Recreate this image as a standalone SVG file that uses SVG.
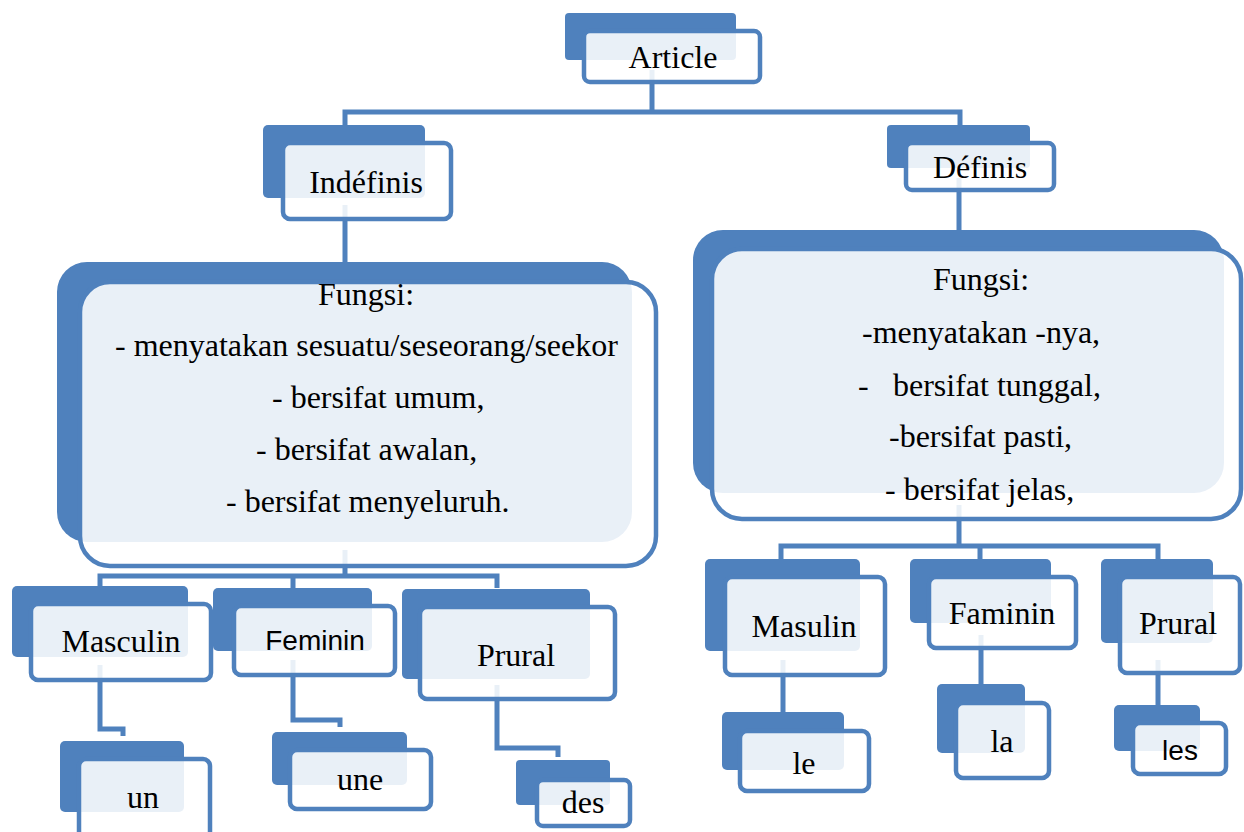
<svg xmlns="http://www.w3.org/2000/svg" width="1244" height="832" viewBox="0 0 1244 832">
<style>
.bk{fill:#4F81BD}
.fr{fill:#fff;fill-opacity:0.88;stroke:#4F81BD;stroke-width:4.5}
.cn{fill:none;stroke:#4F81BD;stroke-width:5}
.t{font-family:"Liberation Serif","Times New Roman",serif;font-size:32px;fill:#000;text-anchor:middle}
.s{font-family:"Liberation Sans",Arial,sans-serif;font-size:28px;fill:#000;text-anchor:middle}
.l{font-family:"Liberation Serif","Times New Roman",serif;font-size:32px;fill:#000}
</style>
<rect width="1244" height="832" fill="#fff"/>
<g id="connectors">
<path class="cn" d="M652 70 V112 M345 125 V112 H960 V125"/>
<path class="cn" d="M345 205 V264"/>
<path class="cn" d="M959 178 V234"/>
<path class="cn" d="M345 550 V576 M100 588 V576 H497 V588 M293 576 V588"/>
<path class="cn" d="M959 505 V546 M781 559 V546 H1158 V559 M980 546 V559"/>
<path class="cn" d="M100 665 V729 H123 V736"/>
<path class="cn" d="M293 660 V720 H340 V727"/>
<path class="cn" d="M497 685 V748 H558 V757"/>
<path class="cn" d="M783 660 V712"/>
<path class="cn" d="M981 635 V684"/>
<path class="cn" d="M1158 660 V705"/>
</g>
<g id="article">
<rect class="bk" x="565" y="13" width="171" height="47" rx="4"/>
<rect class="fr" x="584" y="31" width="176" height="51" rx="6"/>
<text class="t" x="673" y="68">Article</text>
</g>
<g id="indefinis">
<rect class="bk" x="263" y="125" width="162" height="73" rx="5"/>
<rect class="fr" x="283" y="143" width="168" height="76" rx="7"/>
<text class="t" x="366" y="193">Indéfinis</text>
</g>
<g id="definis">
<rect class="bk" x="887" y="125" width="143" height="43" rx="4"/>
<rect class="fr" x="906" y="143" width="148" height="47" rx="6"/>
<text class="t" x="980" y="178">Définis</text>
</g>
<g id="fungsi-indefinis">
<rect class="bk" x="57" y="262" width="575" height="280" rx="30"/>
<rect class="fr" x="80" y="282" width="576" height="284" rx="30"/>
<text class="l" x="318" y="305">Fungsi:</text>
<text class="l" x="115" y="356">- menyatakan sesuatu/seseorang/seekor</text>
<text class="l" x="272" y="408">- bersifat umum,</text>
<text class="l" x="256" y="460">- bersifat awalan,</text>
<text class="l" x="226" y="512">- bersifat menyeluruh.</text>
</g>
<g id="fungsi-definis">
<rect class="bk" x="693" y="230" width="531" height="263" rx="30"/>
<rect class="fr" x="712" y="249" width="529" height="270" rx="30"/>
<text class="l" x="933" y="290">Fungsi:</text>
<text class="l" x="862" y="343">-menyatakan -nya,</text>
<text class="l" x="858" y="396">-<tspan x="893">bersifat tunggal,</tspan></text>
<text class="l" x="889" y="447">-bersifat pasti,</text>
<text class="l" x="885" y="500">- bersifat jelas,</text>
</g>
<g id="masculin">
<rect class="bk" x="12" y="586" width="176" height="71" rx="5"/>
<rect class="fr" x="31" y="604" width="180" height="76" rx="7"/>
<text class="t" x="121" y="652">Masculin</text>
</g>
<g id="feminin">
<rect class="bk" x="213" y="588" width="159" height="63" rx="5"/>
<rect class="fr" x="234" y="606" width="161" height="69" rx="7"/>
<text class="s" x="315" y="650">Feminin</text>
</g>
<g id="prural-indefinis">
<rect class="bk" x="402" y="589" width="188" height="90" rx="5"/>
<rect class="fr" x="420" y="607" width="195" height="92" rx="7"/>
<text class="t" x="516" y="666">Prural</text>
</g>
<g id="un">
<rect class="bk" x="60" y="741" width="124" height="71" rx="5"/>
<rect class="fr" x="79" y="759" width="131" height="80" rx="7"/>
<text class="t" x="143" y="808">un</text>
</g>
<g id="une">
<rect class="bk" x="272" y="732" width="135" height="53" rx="5"/>
<rect class="fr" x="290" y="750" width="141" height="59" rx="7"/>
<text class="t" x="360" y="790">une</text>
</g>
<g id="des">
<rect class="bk" x="516" y="760" width="94" height="45" rx="4"/>
<rect class="fr" x="537" y="780" width="93" height="46" rx="6"/>
<text class="t" x="583" y="813">des</text>
</g>
<g id="masulin">
<rect class="bk" x="705" y="559" width="155" height="92" rx="5"/>
<rect class="fr" x="725" y="577" width="160" height="98" rx="7"/>
<text class="t" x="804" y="637">Masulin</text>
</g>
<g id="faminin">
<rect class="bk" x="910" y="559" width="141" height="64" rx="5"/>
<rect class="fr" x="929" y="577" width="147" height="71" rx="7"/>
<text class="t" x="1002" y="624">Faminin</text>
</g>
<g id="prural-definis">
<rect class="bk" x="1101" y="559" width="112" height="84" rx="5"/>
<rect class="fr" x="1120" y="577" width="120" height="96" rx="7"/>
<text class="t" x="1178" y="634">Prural</text>
</g>
<g id="le">
<rect class="bk" x="722" y="712" width="122" height="58" rx="5"/>
<rect class="fr" x="740" y="731" width="129" height="60" rx="7"/>
<text class="t" x="804" y="774">le</text>
</g>
<g id="la">
<rect class="bk" x="937" y="684" width="88" height="69" rx="5"/>
<rect class="fr" x="956" y="703" width="93" height="75" rx="7"/>
<text class="t" x="1002" y="752">la</text>
</g>
<g id="les">
<rect class="bk" x="1114" y="705" width="86" height="46" rx="5"/>
<rect class="fr" x="1133" y="723" width="93" height="51" rx="7"/>
<text class="s" x="1180" y="760">les</text>
</g>
</svg>
